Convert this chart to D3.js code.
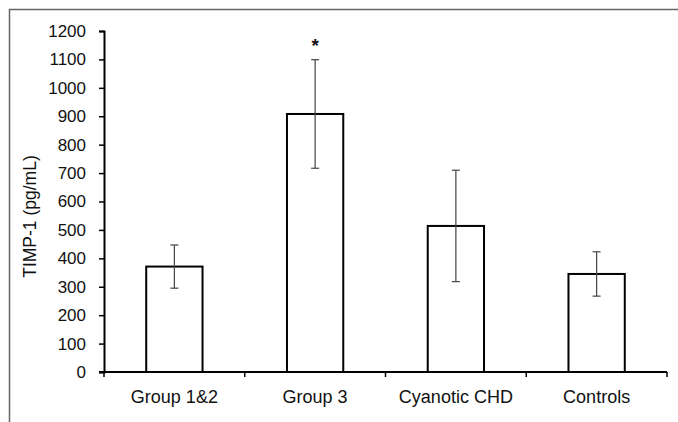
<!DOCTYPE html>
<html>
<head>
  <meta charset="utf-8">
  <script src="https://d3js.org/d3.v7.min.js"></script>
  <style>
    body { margin: 0; background: #fff; }
    svg { display: block; }
    text { font-family: "Liberation Sans", Arial, sans-serif; fill: #111; }
  </style>
</head>
<body>
  <div id="chart"></div>

  <script>
    const groups = ["Group 1&2", "Group 3", "Cyanotic CHD", "Controls"];
    const means = [371, 908, 514, 345];
    const errors = [76, 191, 196, 78];
    const marks = ["", "*", "", ""];
    const yTicks = d3.range(0, 1201, 100);

    const width = 678, height = 422;
    const margin = { left: 104, right: 11, top: 31, bottom: 50 };

    const svg = d3.select("#chart")
      .append("svg")
      .attr("width", width)
      .attr("height", height);

    // outer frame (only top and left show)
    svg.append("path")
      .attr("d", `M9.5,${height} V9.5 H${width}`)
      .attr("fill", "none")
      .attr("stroke", "#666")
      .attr("stroke-width", 1.5);

    const x = d3.scaleBand()
      .domain(groups)
      .range([margin.left, width - margin.right])
      .paddingInner(0.6)
      .paddingOuter(0.3);

    const y = d3.scaleLinear()
      .domain([0, 1200])
      .range([height - margin.bottom, margin.top]);

    // bars
    svg.selectAll("rect.bar")
      .data(groups)
      .enter()
      .append("rect")
      .attr("class", "bar")
      .attr("x", d => x(d))
      .attr("width", x.bandwidth())
      .attr("y", (d, i) => y(means[i]))
      .attr("height", (d, i) => y(0) - y(means[i]))
      .attr("fill", "#fff")
      .attr("stroke", "#000")
      .attr("stroke-width", 2);

    // error bars
    const cap = 4;
    const eb = svg.selectAll("g.err")
      .data(groups)
      .enter()
      .append("g")
      .attr("class", "err")
      .attr("stroke", "#444")
      .attr("stroke-width", 1.2);

    eb.append("line")
      .attr("x1", d => x(d) + x.bandwidth() / 2)
      .attr("x2", d => x(d) + x.bandwidth() / 2)
      .attr("y1", (d, i) => y(means[i] + errors[i]))
      .attr("y2", (d, i) => y(means[i] - errors[i]));
    eb.append("line")
      .attr("x1", d => x(d) + x.bandwidth() / 2 - cap)
      .attr("x2", d => x(d) + x.bandwidth() / 2 + cap)
      .attr("y1", (d, i) => y(means[i] + errors[i]))
      .attr("y2", (d, i) => y(means[i] + errors[i]));
    eb.append("line")
      .attr("x1", d => x(d) + x.bandwidth() / 2 - cap)
      .attr("x2", d => x(d) + x.bandwidth() / 2 + cap)
      .attr("y1", (d, i) => y(means[i] - errors[i]))
      .attr("y2", (d, i) => y(means[i] - errors[i]));

    // significance marks
    svg.selectAll("text.mark")
      .data(groups)
      .enter()
      .append("text")
      .attr("class", "mark")
      .attr("x", d => x(d) + x.bandwidth() / 2)
      .attr("y", (d, i) => y(means[i] + errors[i]) - 8)
      .attr("text-anchor", "middle")
      .style("font-size", "19px")
      .style("font-weight", "bold")
      .text((d, i) => marks[i]);

    // y axis
    const yAxis = svg.append("g")
      .attr("transform", `translate(${margin.left},0)`)
      .call(d3.axisLeft(y).tickValues(yTicks).tickFormat(d3.format("d")).tickSize(5).tickPadding(13));
    yAxis.select(".domain").attr("stroke", "#000").attr("stroke-width", 2);
    yAxis.selectAll(".tick line").attr("stroke", "#000").attr("stroke-width", 1.5);
    yAxis.selectAll(".tick text")
      .style("font-size", "17px")
      .style("font-family", "'Liberation Sans', Arial, sans-serif")
      .attr("fill", "#111");

    // x axis: line with ticks between categories
    const x0 = margin.left, x1 = width - margin.right, yb = y(0);
    svg.append("line")
      .attr("x1", x0 - 5).attr("x2", x1)
      .attr("y1", yb).attr("y2", yb)
      .attr("stroke", "#000").attr("stroke-width", 2);
    const step = (x1 - x0) / groups.length;
    svg.selectAll("line.xtick")
      .data(d3.range(groups.length + 1))
      .enter()
      .append("line")
      .attr("class", "xtick")
      .attr("x1", i => x0 + i * step)
      .attr("x2", i => x0 + i * step)
      .attr("y1", yb)
      .attr("y2", yb + 5)
      .attr("stroke", "#000")
      .attr("stroke-width", 1.5);

    svg.selectAll("text.xlab")
      .data(groups)
      .enter()
      .append("text")
      .attr("class", "xlab")
      .attr("x", d => x(d) + x.bandwidth() / 2)
      .attr("y", yb + 31)
      .attr("text-anchor", "middle")
      .style("font-size", "18px")
      .text(d => d);

    // y label
    svg.append("text")
      .attr("transform", `translate(36,${(y(0) + y(1200)) / 2 + 15}) rotate(-90)`)
      .attr("text-anchor", "middle")
      .style("font-size", "17.5px")
      .text("TIMP-1 (pg/mL)");
  </script>
</body>
</html>
